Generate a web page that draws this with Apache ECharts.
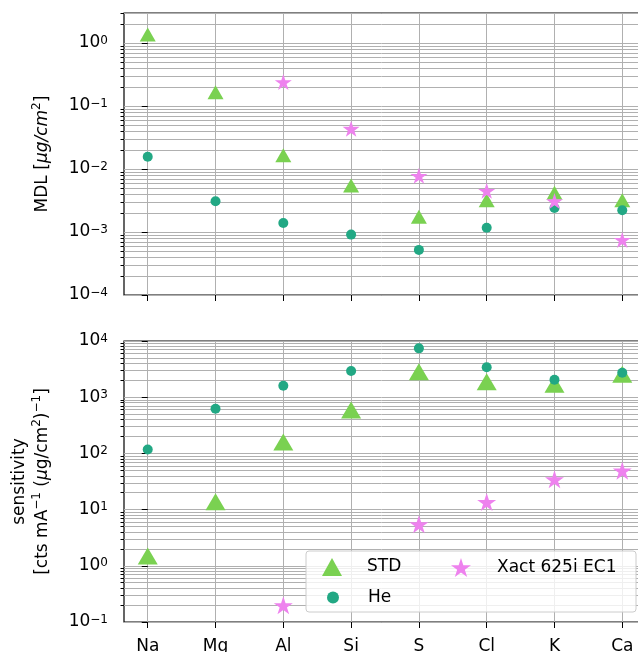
<!DOCTYPE html>
<html lang="en">
<head>
  <meta charset="UTF-8">
  <title>MDL and sensitivity</title>
  <script src="https://cdn.jsdelivr.net/npm/echarts@6/dist/echarts.min.js"></script>
</head>
<body style="margin:0">
<div id="main" style="width:638px;height:652px;"></div>
<script>
  const elements = ['Na', 'Mg', 'Al', 'Si', 'S', 'Cl', 'K', 'Ca']
  // MDL [ug/cm2]
  const mdlStd = [1.37, 0.165, 0.0165, 0.0055, 0.00175, 0.0032, 0.0042, 0.0032]
  const mdlHe = [0.0157, 0.00307, 0.00139, 0.00091, 0.00052, 0.00117, 0.0024, 0.00221]
  const mdlXact = [null, null, 0.24, 0.0436, 0.0078, 0.0045, 0.0031, 0.00075]
  // sensitivity [cts mA-1 (ug/cm2)-1]
  const sensStd = [1.5, 13.8, 160, 590, 2850, 1890, 1700, 2550]
  const sensHe = [117, 625, 1600, 2920, 7400, 3400, 2050, 2730]
  const sensXact = [null, null, 0.198, null, 5.47, 13.6, 34.6, 49.2]
  // axis decades
  const mdlTicks = [1e-4, 1e-3, 1e-2, 1e-1, 1e0]
  const sensTicks = [1e-1, 1e0, 1e1, 1e2, 1e3, 1e4]

  const STAR = 'path://M50,0L61.2,34.5L97.6,34.5L68.2,55.9L79.4,90.5L50,69.1L20.6,90.5L31.8,55.9L2.4,34.5L38.8,34.5Z'
  const C_STD = '#7ad151', C_HE = '#22a884', C_X = '#ee82ee'
  const FONT = 'DejaVu Sans'
  const gridLine = { show: true, lineStyle: { color: '#b0b0b0', width: 1 } }
  const supRich = {
    s: { fontSize: 12, fontFamily: FONT, color: '#000', verticalAlign: 'top' },
    i: { fontSize: 17, fontFamily: FONT, color: '#000', fontStyle: 'italic' },
    n: { fontSize: 17, fontFamily: FONT, color: '#000' }
  }
  const idx = elements.map((e, i) => i)

  function pts(arr) {
    return arr.map((v, i) => v == null ? null : [i, v]).filter(Boolean)
  }
  function powLabel(v) {
    const e = Math.round(Math.log10(v))
    return '10{s|' + (e < 0 ? '\u2212' + (-e) : e) + '}'
  }

  function xAxis(grid, labels) {
    return {
      gridIndex: grid, type: 'value', min: -0.35, max: 7.35,
      axisLine: { show: false },
      axisTick: { show: true, customValues: idx, length: 6, lineStyle: { color: '#000', width: 1 } },
      axisLabel: {
        show: labels, customValues: idx, formatter: v => elements[Math.round(v)],
        fontSize: 17, fontFamily: FONT, color: '#000', margin: 16
      },
      splitLine: gridLine
    }
  }

  function yAxes(grid, min, max, decades, name, nameGap) {
    const minors = []
    decades.forEach(d => {
      for (let k = 2; k < 10; k++) if (k * d <= max * 1.0001) minors.push(k * d)
    })
    return [
      {
        gridIndex: grid, type: 'log', position: 'left', min, max,
        name, nameLocation: 'middle', nameGap, nameRotate: 90,
        nameTextStyle: { fontSize: 17, fontFamily: FONT, color: '#000', lineHeight: 23, rich: supRich },
        axisLine: { show: false },
        axisTick: { show: true, customValues: decades, length: 6, lineStyle: { color: '#000', width: 1 } },
        axisLabel: {
          customValues: decades, formatter: powLabel, margin: 16,
          fontSize: 17, fontFamily: FONT, color: '#000', rich: supRich
        },
        splitLine: gridLine
      },
      {
        gridIndex: grid, type: 'log', position: 'left', min, max,
        axisLine: { show: false },
        axisTick: { show: true, customValues: minors, length: 3.5, lineStyle: { color: '#000', width: 1 } },
        axisLabel: { show: false },
        splitLine: gridLine
      }
    ]
  }

  function scatter(name, data, xi, yi, symbol, size, color) {
    return {
      name, type: 'scatter', xAxisIndex: xi, yAxisIndex: yi, data: pts(data),
      symbol, symbolSize: size, itemStyle: { color, opacity: 1 }, z: 2
    }
  }

  function legend(name, left, top, w, h, pad) {
    return {
      data: [name], left, top, padding: 0, itemWidth: w, itemHeight: h, z: 10,
      selectedMode: false,
      textStyle: { fontSize: 17, fontFamily: FONT, color: '#000', padding: [0, 0, 0, pad] }
    }
  }

  const gridBase = { left: 124, width: 522, show: true, borderColor: '#000', borderWidth: 1.2,
    backgroundColor: 'transparent', outerBoundsMode: 'none', containLabel: false }

  const chart = echarts.init(document.getElementById('main'), null, { renderer: 'canvas' })
  chart.setOption({
    animation: false,
    backgroundColor: '#fff',
    textStyle: { fontFamily: FONT },
    grid: [
      Object.assign({ top: 13, height: 282 }, gridBase),
      Object.assign({ top: 341, height: 281 }, gridBase)
    ],
    xAxis: [xAxis(0, false), xAxis(1, true)],
    yAxis: [
      ...yAxes(0, 1e-4, 3, mdlTicks, '{n|MDL [}{i|\u03bcg/cm}{s|2}{n|]}', 70),
      ...yAxes(1, 1e-1, 1e4, sensTicks, 'sensitivity\n[cts mA{s|\u22121} ({i|\u03bc}g/cm{s|2}){s|\u22121}]', 70)
    ],
    legend: [
      legend('STD', 322, 558, 20, 18, 20),
      legend('He', 327, 589, 20, 12, 20),
      legend('Xact 625i EC1', 451, 558, 20, 19, 21)
    ],
    graphic: [{
      type: 'rect', z: 3,
      shape: { x: 306, y: 551, width: 330, height: 61, r: 3 },
      style: { fill: 'rgba(255,255,255,0.8)', stroke: '#cccccc', lineWidth: 1 }
    }],
    series: [
      scatter('STD', mdlStd, 0, 0, 'triangle', [16, 14], C_STD),
      scatter('He', mdlHe, 0, 0, 'circle', 10, C_HE),
      scatter('Xact 625i EC1', mdlXact, 0, 0, STAR, [17, 16], C_X),
      scatter('STD', sensStd, 1, 2, 'triangle', [20, 17], C_STD),
      scatter('He', sensHe, 1, 2, 'circle', 10, C_HE),
      scatter('Xact 625i EC1', sensXact, 1, 2, STAR, [19, 18], C_X)
    ]
  })
</script>
</body>
</html>
